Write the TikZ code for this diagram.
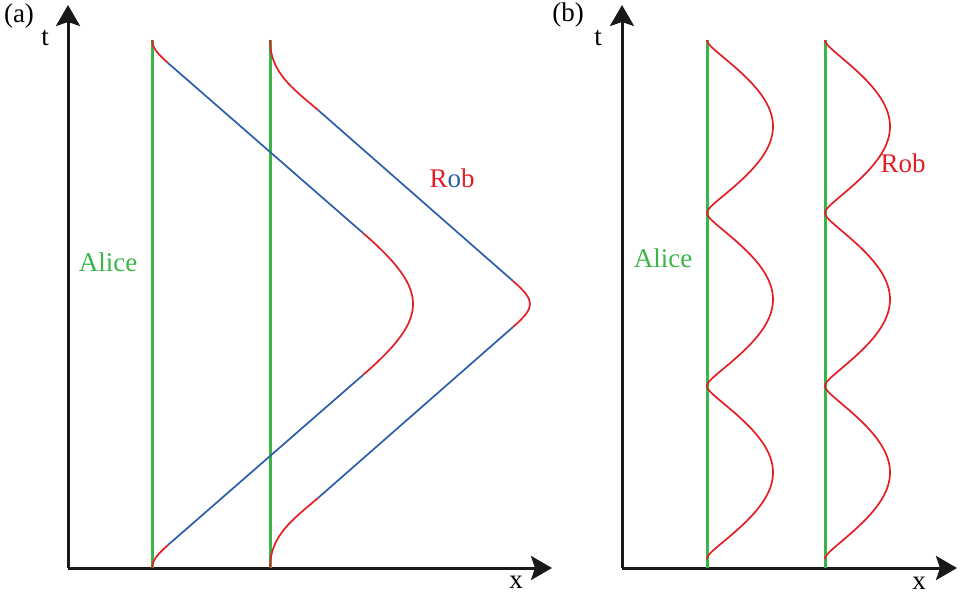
\documentclass[tikz,border=0pt]{standalone}
\usepackage{fontspec}
\setmainfont{Liberation Serif}
\usepackage{xcolor}
\usepackage{tikz}
\usetikzlibrary{arrows.meta}

\definecolor{alicegreen}{RGB}{57,181,74}
\definecolor{robred}{RGB}{227,30,36}
\definecolor{shipblue}{RGB}{43,93,168}

\begin{document}
\begin{tikzpicture}[x=1pt, y=-1pt, line join=round,
    axis/.style={line width=3pt, black!90, -{Stealth[length=21pt, width=24pt, inset=4pt]}},
    alice/.style={line width=3pt, alicegreen},
    rob/.style={line width=1.7pt, robred},
    ship/.style={line width=1.7pt, shipblue},
    lbl/.style={font=\fontsize{27}{32}\selectfont, inner sep=0pt}]
    \useasboundingbox (0,0) rectangle (960,596);

    % --- Panel (a): axes ---
    \coordinate (Oa) at (68,568);
    \coordinate (Ta) at (68,5);
    \coordinate (Xa) at (552,568);
    \draw[axis] (Oa) -- (Ta);
    \draw[axis] (Oa) -- (Xa);
    \node[lbl] (panelA) at (19,16) {(a)};
    \node[lbl] (tA) at (45,38) {t};
    \node[lbl] (xA) at (516,582) {x};

    % --- Alice's two worldlines (at rest) ---
    \draw[alice] (152,40) -- (152,568);
    \draw[alice] (270,40) -- (270,568);
    \node[lbl, alicegreen] (aliceA) at (108,262) {Alice};

    % --- Rob: left trip (red = accelerating, blue = coasting) ---
    \draw[rob] (152,40) .. controls (152,48) and (159,55) .. (168,63);
    \draw[ship] (168,63) -- (363,233);
    \draw[rob] (363,233) .. controls (429.7,291) and (429.7,317) .. (363,375);
    \draw[ship] (363,375) -- (168,545);
    \draw[rob] (168,545) .. controls (159,553) and (152,560) .. (152,568);

    % --- Rob: right trip ---
    \draw[rob] (270,40) .. controls (270,72) and (292,88) .. (318,110);
    \draw[ship] (318,110) -- (513,281);
    \draw[rob] (513,281) .. controls (535.7,300.8) and (535.7,307.2) .. (513,327);
    \draw[ship] (513,327) -- (318,498);
    \draw[rob] (318,498) .. controls (292,520) and (270,536) .. (270,568);
    \node[lbl] (robA) at (452,178)
        {\textcolor{robred}{R}\textcolor{shipblue}{o}\textcolor{robred}{b}};

    % --- Panel (b): axes ---
    \coordinate (Ob) at (622,568);
    \coordinate (Tb) at (622,5);
    \coordinate (Xb) at (957,568);
    \draw[axis] (Ob) -- (Tb);
    \draw[axis] (Ob) -- (Xb);
    \node[lbl] (panelB) at (568,15) {(b)};
    \node[lbl] (tB) at (598,38) {t};
    \node[lbl] (xB) at (919,583) {x};

    % --- Alice at rest, Rob oscillating ---
    \draw[alice] (707,40) -- (707,568);
    \draw[alice] (825,40) -- (825,568);
    \node[lbl, alicegreen] (aliceB) at (663,258) {Alice};

    \draw[rob] plot[domain=40:559, samples=260, variable=\t]
        ({707+66*(sqrt(sin(1.04046*(\t-40))^2+0.01)-0.1)/0.905}, \t);
    \draw[rob] plot[domain=40:559, samples=260, variable=\t]
        ({825+65*(sqrt(sin(1.04046*(\t-40))^2+0.01)-0.1)/0.905}, \t);
    \node[lbl, robred] (robB) at (903,163) {Rob};

\end{tikzpicture}
\end{document}
